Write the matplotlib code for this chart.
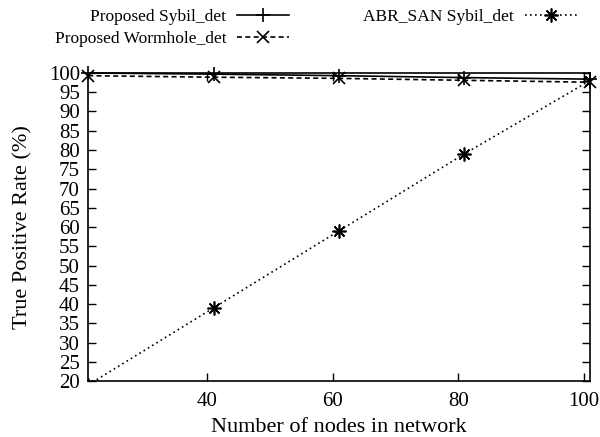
import matplotlib
matplotlib.use("Agg")
import matplotlib.pyplot as plt

plt.rcParams['font.family'] = ['Liberation Serif', 'DejaVu Serif']

nodes = [21, 41, 61, 81, 101]
sybil_det = [100, 99.7, 99.3, 98.8, 98.4]
wormhole_det = [99.3, 98.9, 98.6, 98.1, 97.6]
abr_san = [19, 39, 59, 79, 98]

fig = plt.figure(figsize=(6, 4.37), dpi=100)
ax = fig.add_axes([0.147, 0.128, 0.836, 0.705])

ax.plot(nodes, sybil_det, color='black', lw=1.2, marker='+', ms=10, mew=1.2,
        label='Proposed Sybil_det', clip_on=False, zorder=3)
ax.plot(nodes, wormhole_det, color='black', lw=1.2, ls=(0, (3, 2)), marker='x',
        ms=8, mew=1.2, label='Proposed Wormhole_det', clip_on=False, zorder=3)
ax.plot(nodes, abr_san, color='black', lw=1.2, ls=(0, (1, 2)), marker=(8, 2, 0),
        ms=10, mew=1.2, label='ABR_SAN Sybil_det', zorder=3)

ax.set_xlim(21, 101)
ax.set_ylim(20, 100)
ax.set_xticks([40, 60, 80, 100])
ax.set_yticks(range(20, 101, 5))
ax.tick_params(direction='in', top=True, right=True, labelsize=15, length=6,
               width=1, pad=6)
ax.tick_params(axis='x', pad=8)
for s in ax.spines.values():
    s.set_linewidth(1.2)

ax.set_xlabel('Number of nodes in network', fontsize=16, labelpad=5)
ax.set_ylabel('True Positive Rate (%)', fontsize=16, labelpad=12)

fig.legend(loc='upper left', bbox_to_anchor=(0.065, 1.015), ncol=2,
           markerfirst=False, frameon=False, fontsize=12.5, handlelength=3,
           columnspacing=4.3, labelspacing=0.35, handletextpad=0.6)

fig.savefig('out.png', dpi=100)
